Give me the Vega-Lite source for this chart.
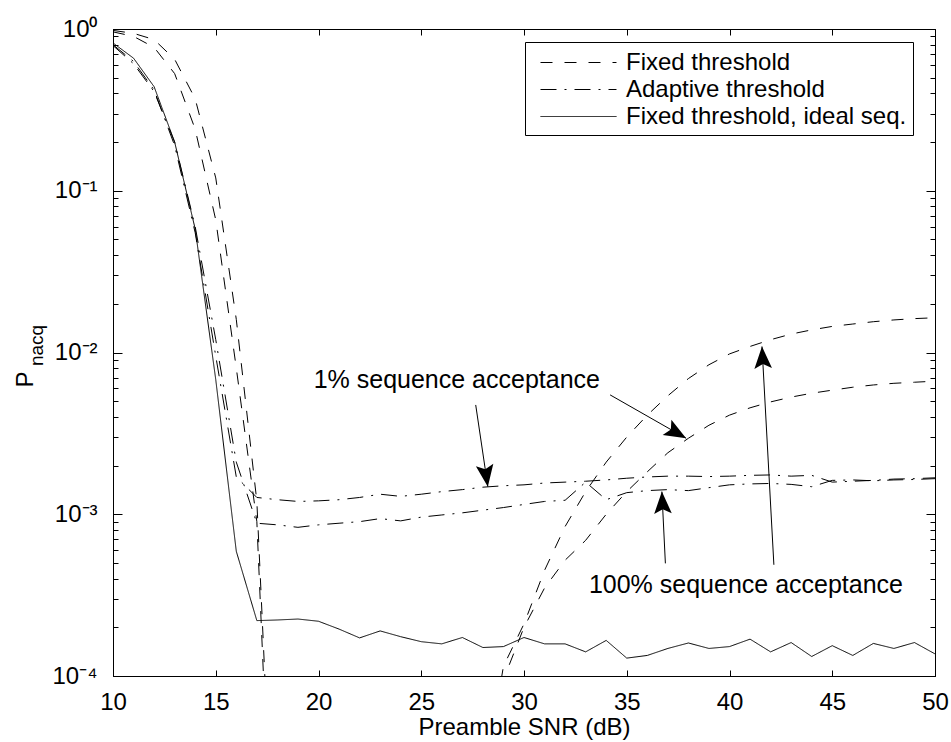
{
  "$schema": "https://vega.github.io/schema/vega-lite/v6.json",
  "width": 822,
  "height": 647,
  "autosize": {"type": "none"},
  "padding": {"left": 113, "top": 29, "right": 16, "bottom": 66},
  "background": "white",
  "datasets": {
    "curves": [
      {"c": "fixR", "t": "Fixed threshold", "x": 10, "y": 0.98},
      {"c": "fixR", "t": "Fixed threshold", "x": 11, "y": 0.94},
      {"c": "fixR", "t": "Fixed threshold", "x": 12, "y": 0.86},
      {"c": "fixR", "t": "Fixed threshold", "x": 13, "y": 0.65},
      {"c": "fixR", "t": "Fixed threshold", "x": 14, "y": 0.37},
      {"c": "fixR", "t": "Fixed threshold", "x": 15, "y": 0.12},
      {"c": "fixR", "t": "Fixed threshold", "x": 16, "y": 0.016},
      {"c": "fixR", "t": "Fixed threshold", "x": 17, "y": 0.0012},
      {"c": "fixR", "t": "Fixed threshold", "x": 18, "y": 0.000002},
      {"c": "fixR", "t": "Fixed threshold", "x": 28, "y": 0.00002},
      {"c": "fixR", "t": "Fixed threshold", "x": 29, "y": 0.000115},
      {"c": "fixR", "t": "Fixed threshold", "x": 30, "y": 0.00021},
      {"c": "fixR", "t": "Fixed threshold", "x": 31, "y": 0.00045},
      {"c": "fixR", "t": "Fixed threshold", "x": 32, "y": 0.00084},
      {"c": "fixR", "t": "Fixed threshold", "x": 33, "y": 0.00138},
      {"c": "fixR", "t": "Fixed threshold", "x": 34, "y": 0.0021},
      {"c": "fixR", "t": "Fixed threshold", "x": 35, "y": 0.003},
      {"c": "fixR", "t": "Fixed threshold", "x": 36, "y": 0.0041},
      {"c": "fixR", "t": "Fixed threshold", "x": 37, "y": 0.0054},
      {"c": "fixR", "t": "Fixed threshold", "x": 38, "y": 0.0069},
      {"c": "fixR", "t": "Fixed threshold", "x": 39, "y": 0.0084},
      {"c": "fixR", "t": "Fixed threshold", "x": 40, "y": 0.0098},
      {"c": "fixR", "t": "Fixed threshold", "x": 41, "y": 0.0109},
      {"c": "fixR", "t": "Fixed threshold", "x": 42, "y": 0.012},
      {"c": "fixR", "t": "Fixed threshold", "x": 43, "y": 0.013},
      {"c": "fixR", "t": "Fixed threshold", "x": 44, "y": 0.0138},
      {"c": "fixR", "t": "Fixed threshold", "x": 45, "y": 0.0145},
      {"c": "fixR", "t": "Fixed threshold", "x": 46, "y": 0.015},
      {"c": "fixR", "t": "Fixed threshold", "x": 47, "y": 0.0155},
      {"c": "fixR", "t": "Fixed threshold", "x": 48, "y": 0.0159},
      {"c": "fixR", "t": "Fixed threshold", "x": 49, "y": 0.0162},
      {"c": "fixR", "t": "Fixed threshold", "x": 50, "y": 0.0164},

      {"c": "fixM", "t": "Fixed threshold", "x": 10, "y": 0.96},
      {"c": "fixM", "t": "Fixed threshold", "x": 11, "y": 0.9},
      {"c": "fixM", "t": "Fixed threshold", "x": 12, "y": 0.77},
      {"c": "fixM", "t": "Fixed threshold", "x": 13, "y": 0.53},
      {"c": "fixM", "t": "Fixed threshold", "x": 14, "y": 0.24},
      {"c": "fixM", "t": "Fixed threshold", "x": 15, "y": 0.066},
      {"c": "fixM", "t": "Fixed threshold", "x": 16, "y": 0.008},
      {"c": "fixM", "t": "Fixed threshold", "x": 17, "y": 0.0009},
      {"c": "fixM", "t": "Fixed threshold", "x": 18, "y": 0.000001},
      {"c": "fixM", "t": "Fixed threshold", "x": 28, "y": 0.000015},
      {"c": "fixM", "t": "Fixed threshold", "x": 29, "y": 0.000095},
      {"c": "fixM", "t": "Fixed threshold", "x": 30, "y": 0.0002},
      {"c": "fixM", "t": "Fixed threshold", "x": 31, "y": 0.00035},
      {"c": "fixM", "t": "Fixed threshold", "x": 32, "y": 0.00052},
      {"c": "fixM", "t": "Fixed threshold", "x": 33, "y": 0.00069},
      {"c": "fixM", "t": "Fixed threshold", "x": 34, "y": 0.001},
      {"c": "fixM", "t": "Fixed threshold", "x": 35, "y": 0.00138},
      {"c": "fixM", "t": "Fixed threshold", "x": 36, "y": 0.00183},
      {"c": "fixM", "t": "Fixed threshold", "x": 37, "y": 0.0024},
      {"c": "fixM", "t": "Fixed threshold", "x": 38, "y": 0.00295},
      {"c": "fixM", "t": "Fixed threshold", "x": 39, "y": 0.00355},
      {"c": "fixM", "t": "Fixed threshold", "x": 40, "y": 0.0041},
      {"c": "fixM", "t": "Fixed threshold", "x": 41, "y": 0.00455},
      {"c": "fixM", "t": "Fixed threshold", "x": 42, "y": 0.00495},
      {"c": "fixM", "t": "Fixed threshold", "x": 43, "y": 0.0053},
      {"c": "fixM", "t": "Fixed threshold", "x": 44, "y": 0.0056},
      {"c": "fixM", "t": "Fixed threshold", "x": 45, "y": 0.00585},
      {"c": "fixM", "t": "Fixed threshold", "x": 46, "y": 0.0061},
      {"c": "fixM", "t": "Fixed threshold", "x": 47, "y": 0.0063},
      {"c": "fixM", "t": "Fixed threshold", "x": 48, "y": 0.00645},
      {"c": "fixM", "t": "Fixed threshold", "x": 49, "y": 0.00655},
      {"c": "fixM", "t": "Fixed threshold", "x": 50, "y": 0.00665},

      {"c": "ad1", "t": "Adaptive threshold", "x": 10, "y": 0.8},
      {"c": "ad1", "t": "Adaptive threshold", "x": 11, "y": 0.63},
      {"c": "ad1", "t": "Adaptive threshold", "x": 12, "y": 0.42},
      {"c": "ad1", "t": "Adaptive threshold", "x": 13, "y": 0.19},
      {"c": "ad1", "t": "Adaptive threshold", "x": 14, "y": 0.055},
      {"c": "ad1", "t": "Adaptive threshold", "x": 15, "y": 0.0095},
      {"c": "ad1", "t": "Adaptive threshold", "x": 16, "y": 0.0017},
      {"c": "ad1", "t": "Adaptive threshold", "x": 17, "y": 0.00127},
      {"c": "ad1", "t": "Adaptive threshold", "x": 18, "y": 0.00123},
      {"c": "ad1", "t": "Adaptive threshold", "x": 19, "y": 0.0012},
      {"c": "ad1", "t": "Adaptive threshold", "x": 20, "y": 0.00121},
      {"c": "ad1", "t": "Adaptive threshold", "x": 21, "y": 0.00123},
      {"c": "ad1", "t": "Adaptive threshold", "x": 22, "y": 0.00127},
      {"c": "ad1", "t": "Adaptive threshold", "x": 23, "y": 0.00133},
      {"c": "ad1", "t": "Adaptive threshold", "x": 24, "y": 0.00129},
      {"c": "ad1", "t": "Adaptive threshold", "x": 25, "y": 0.00133},
      {"c": "ad1", "t": "Adaptive threshold", "x": 26, "y": 0.00138},
      {"c": "ad1", "t": "Adaptive threshold", "x": 27, "y": 0.00142},
      {"c": "ad1", "t": "Adaptive threshold", "x": 28, "y": 0.00147},
      {"c": "ad1", "t": "Adaptive threshold", "x": 29, "y": 0.0015},
      {"c": "ad1", "t": "Adaptive threshold", "x": 30, "y": 0.00152},
      {"c": "ad1", "t": "Adaptive threshold", "x": 31, "y": 0.00156},
      {"c": "ad1", "t": "Adaptive threshold", "x": 32, "y": 0.00158},
      {"c": "ad1", "t": "Adaptive threshold", "x": 33, "y": 0.0016},
      {"c": "ad1", "t": "Adaptive threshold", "x": 34, "y": 0.00163},
      {"c": "ad1", "t": "Adaptive threshold", "x": 35, "y": 0.00167},
      {"c": "ad1", "t": "Adaptive threshold", "x": 36, "y": 0.0017},
      {"c": "ad1", "t": "Adaptive threshold", "x": 37, "y": 0.00172},
      {"c": "ad1", "t": "Adaptive threshold", "x": 38, "y": 0.00172},
      {"c": "ad1", "t": "Adaptive threshold", "x": 39, "y": 0.00171},
      {"c": "ad1", "t": "Adaptive threshold", "x": 40, "y": 0.00172},
      {"c": "ad1", "t": "Adaptive threshold", "x": 41, "y": 0.00174},
      {"c": "ad1", "t": "Adaptive threshold", "x": 42, "y": 0.00175},
      {"c": "ad1", "t": "Adaptive threshold", "x": 43, "y": 0.00172},
      {"c": "ad1", "t": "Adaptive threshold", "x": 44, "y": 0.00174},
      {"c": "ad1", "t": "Adaptive threshold", "x": 45, "y": 0.00158},
      {"c": "ad1", "t": "Adaptive threshold", "x": 46, "y": 0.0016},
      {"c": "ad1", "t": "Adaptive threshold", "x": 47, "y": 0.00162},
      {"c": "ad1", "t": "Adaptive threshold", "x": 48, "y": 0.00165},
      {"c": "ad1", "t": "Adaptive threshold", "x": 49, "y": 0.00166},
      {"c": "ad1", "t": "Adaptive threshold", "x": 50, "y": 0.00168},

      {"c": "ad100", "t": "Adaptive threshold", "x": 10, "y": 0.79},
      {"c": "ad100", "t": "Adaptive threshold", "x": 11, "y": 0.61},
      {"c": "ad100", "t": "Adaptive threshold", "x": 12, "y": 0.41},
      {"c": "ad100", "t": "Adaptive threshold", "x": 13, "y": 0.2},
      {"c": "ad100", "t": "Adaptive threshold", "x": 14, "y": 0.06},
      {"c": "ad100", "t": "Adaptive threshold", "x": 15, "y": 0.012},
      {"c": "ad100", "t": "Adaptive threshold", "x": 16, "y": 0.0021},
      {"c": "ad100", "t": "Adaptive threshold", "x": 17, "y": 0.00088},
      {"c": "ad100", "t": "Adaptive threshold", "x": 18, "y": 0.00086},
      {"c": "ad100", "t": "Adaptive threshold", "x": 19, "y": 0.00083},
      {"c": "ad100", "t": "Adaptive threshold", "x": 20, "y": 0.00086},
      {"c": "ad100", "t": "Adaptive threshold", "x": 21, "y": 0.00088},
      {"c": "ad100", "t": "Adaptive threshold", "x": 22, "y": 0.0009},
      {"c": "ad100", "t": "Adaptive threshold", "x": 23, "y": 0.00094},
      {"c": "ad100", "t": "Adaptive threshold", "x": 24, "y": 0.00091},
      {"c": "ad100", "t": "Adaptive threshold", "x": 25, "y": 0.00096},
      {"c": "ad100", "t": "Adaptive threshold", "x": 26, "y": 0.00099},
      {"c": "ad100", "t": "Adaptive threshold", "x": 27, "y": 0.00102},
      {"c": "ad100", "t": "Adaptive threshold", "x": 28, "y": 0.00106},
      {"c": "ad100", "t": "Adaptive threshold", "x": 29, "y": 0.0011},
      {"c": "ad100", "t": "Adaptive threshold", "x": 30, "y": 0.00115},
      {"c": "ad100", "t": "Adaptive threshold", "x": 31, "y": 0.0012},
      {"c": "ad100", "t": "Adaptive threshold", "x": 32, "y": 0.00122},
      {"c": "ad100", "t": "Adaptive threshold", "x": 33, "y": 0.00158},
      {"c": "ad100", "t": "Adaptive threshold", "x": 34, "y": 0.00123},
      {"c": "ad100", "t": "Adaptive threshold", "x": 35, "y": 0.00136},
      {"c": "ad100", "t": "Adaptive threshold", "x": 36, "y": 0.0014},
      {"c": "ad100", "t": "Adaptive threshold", "x": 37, "y": 0.00142},
      {"c": "ad100", "t": "Adaptive threshold", "x": 38, "y": 0.0014},
      {"c": "ad100", "t": "Adaptive threshold", "x": 39, "y": 0.00146},
      {"c": "ad100", "t": "Adaptive threshold", "x": 40, "y": 0.00152},
      {"c": "ad100", "t": "Adaptive threshold", "x": 41, "y": 0.00154},
      {"c": "ad100", "t": "Adaptive threshold", "x": 42, "y": 0.00155},
      {"c": "ad100", "t": "Adaptive threshold", "x": 43, "y": 0.00153},
      {"c": "ad100", "t": "Adaptive threshold", "x": 44, "y": 0.00148},
      {"c": "ad100", "t": "Adaptive threshold", "x": 45, "y": 0.00162},
      {"c": "ad100", "t": "Adaptive threshold", "x": 46, "y": 0.00163},
      {"c": "ad100", "t": "Adaptive threshold", "x": 47, "y": 0.00161},
      {"c": "ad100", "t": "Adaptive threshold", "x": 48, "y": 0.00163},
      {"c": "ad100", "t": "Adaptive threshold", "x": 49, "y": 0.00164},
      {"c": "ad100", "t": "Adaptive threshold", "x": 50, "y": 0.00166},

      {"c": "ideal", "t": "Fixed threshold, ideal seq.", "x": 10, "y": 0.82},
      {"c": "ideal", "t": "Fixed threshold, ideal seq.", "x": 11, "y": 0.66},
      {"c": "ideal", "t": "Fixed threshold, ideal seq.", "x": 12, "y": 0.44},
      {"c": "ideal", "t": "Fixed threshold, ideal seq.", "x": 13, "y": 0.2},
      {"c": "ideal", "t": "Fixed threshold, ideal seq.", "x": 14, "y": 0.058},
      {"c": "ideal", "t": "Fixed threshold, ideal seq.", "x": 15, "y": 0.0068},
      {"c": "ideal", "t": "Fixed threshold, ideal seq.", "x": 16, "y": 0.00059},
      {"c": "ideal", "t": "Fixed threshold, ideal seq.", "x": 17, "y": 0.00022},
      {"c": "ideal", "t": "Fixed threshold, ideal seq.", "x": 18, "y": 0.000222},
      {"c": "ideal", "t": "Fixed threshold, ideal seq.", "x": 19, "y": 0.000225},
      {"c": "ideal", "t": "Fixed threshold, ideal seq.", "x": 20, "y": 0.000218},
      {"c": "ideal", "t": "Fixed threshold, ideal seq.", "x": 21, "y": 0.000195},
      {"c": "ideal", "t": "Fixed threshold, ideal seq.", "x": 22, "y": 0.000172},
      {"c": "ideal", "t": "Fixed threshold, ideal seq.", "x": 23, "y": 0.00019},
      {"c": "ideal", "t": "Fixed threshold, ideal seq.", "x": 24, "y": 0.000175},
      {"c": "ideal", "t": "Fixed threshold, ideal seq.", "x": 25, "y": 0.000163},
      {"c": "ideal", "t": "Fixed threshold, ideal seq.", "x": 26, "y": 0.000158},
      {"c": "ideal", "t": "Fixed threshold, ideal seq.", "x": 27, "y": 0.000173},
      {"c": "ideal", "t": "Fixed threshold, ideal seq.", "x": 28, "y": 0.00015},
      {"c": "ideal", "t": "Fixed threshold, ideal seq.", "x": 29, "y": 0.000152},
      {"c": "ideal", "t": "Fixed threshold, ideal seq.", "x": 30, "y": 0.000173},
      {"c": "ideal", "t": "Fixed threshold, ideal seq.", "x": 31, "y": 0.000158},
      {"c": "ideal", "t": "Fixed threshold, ideal seq.", "x": 32, "y": 0.000158},
      {"c": "ideal", "t": "Fixed threshold, ideal seq.", "x": 33, "y": 0.000141},
      {"c": "ideal", "t": "Fixed threshold, ideal seq.", "x": 34, "y": 0.000166},
      {"c": "ideal", "t": "Fixed threshold, ideal seq.", "x": 35, "y": 0.000129},
      {"c": "ideal", "t": "Fixed threshold, ideal seq.", "x": 36, "y": 0.000134},
      {"c": "ideal", "t": "Fixed threshold, ideal seq.", "x": 37, "y": 0.000148},
      {"c": "ideal", "t": "Fixed threshold, ideal seq.", "x": 38, "y": 0.00016},
      {"c": "ideal", "t": "Fixed threshold, ideal seq.", "x": 39, "y": 0.000148},
      {"c": "ideal", "t": "Fixed threshold, ideal seq.", "x": 40, "y": 0.000152},
      {"c": "ideal", "t": "Fixed threshold, ideal seq.", "x": 41, "y": 0.000169},
      {"c": "ideal", "t": "Fixed threshold, ideal seq.", "x": 42, "y": 0.000141},
      {"c": "ideal", "t": "Fixed threshold, ideal seq.", "x": 43, "y": 0.000161},
      {"c": "ideal", "t": "Fixed threshold, ideal seq.", "x": 44, "y": 0.000132},
      {"c": "ideal", "t": "Fixed threshold, ideal seq.", "x": 45, "y": 0.000154},
      {"c": "ideal", "t": "Fixed threshold, ideal seq.", "x": 46, "y": 0.000134},
      {"c": "ideal", "t": "Fixed threshold, ideal seq.", "x": 47, "y": 0.000159},
      {"c": "ideal", "t": "Fixed threshold, ideal seq.", "x": 48, "y": 0.000148},
      {"c": "ideal", "t": "Fixed threshold, ideal seq.", "x": 49, "y": 0.000161},
      {"c": "ideal", "t": "Fixed threshold, ideal seq.", "x": 50, "y": 0.000137}
    ],
    "notes": [
      {"label": "1% sequence acceptance", "x": 26.73, "y": 0.0068},
      {"label": "100% sequence acceptance", "x": 40.8, "y": 0.000366}
    ],
    "arrows": [
      {"x": 27.65, "y": 0.00474, "x2": 28.24, "y2": 0.00148},
      {"x": 34.19, "y": 0.00547, "x2": 37.89, "y2": 0.00295},
      {"x": 36.88, "y": 0.000497, "x2": 36.71, "y2": 0.00138},
      {"x": 42.16, "y": 0.000487, "x2": 41.58, "y2": 0.0109}
    ]
  },
  "layer": [
    {
      "data": {"name": "curves"},
      "mark": {"type": "line", "color": "black", "strokeWidth": 1, "clip": true},
      "encoding": {
        "x": {
          "field": "x", "type": "quantitative",
          "scale": {"domain": [10, 50], "nice": false, "zero": false},
          "axis": {
            "values": [10, 15, 20, 25, 30, 35, 40, 45, 50],
            "tickSize": -6, "labelPadding": 20, "labelFlush": false, "labelOverlap": false,
            "format": "d", "title": "Preamble SNR (dB)", "titleY": 58, "titleBaseline": "alphabetic"
          }
        },
        "y": {
          "field": "y", "type": "quantitative",
          "scale": {"type": "log", "domain": [0.0001, 1], "nice": false},
          "axis": {
            "values": [0.0001, 0.0002, 0.0003, 0.0004, 0.0005, 0.0006, 0.0007, 0.0008, 0.0009, 0.001, 0.002, 0.003, 0.004, 0.005, 0.006, 0.007, 0.008, 0.009, 0.01, 0.02, 0.03, 0.04, 0.05, 0.06, 0.07, 0.08, 0.09, 0.1, 0.2, 0.3, 0.4, 0.5, 0.6, 0.7, 0.8, 0.9, 1],
            "labelExpr": "abs(log(datum.value)/LN10 - round(log(datum.value)/LN10)) > 0.001 ? '' : ['10⁻⁴','10⁻³','10⁻²','10⁻¹','10⁰'][round(log(datum.value)/LN10) + 4]",
            "tickSize": {"condition": {"test": "abs(log(datum.value)/LN10 - round(log(datum.value)/LN10)) < 0.001", "value": -9}, "value": -5},
            "labelPadding": 25, "labelOverlap": false, "labelFlush": false,
            "title": "P", "titleX": -81, "titleY": 350, "titleAngle": -90,
            "titleBaseline": "alphabetic", "titleAlign": "center"
          }
        },
        "strokeDash": {
          "field": "t", "type": "nominal",
          "scale": {
            "domain": ["Fixed threshold", "Adaptive threshold", "Fixed threshold, ideal seq."],
            "range": [[12, 12], [16, 8, 2, 8], [1, 0]]
          },
          "legend": {
            "title": null, "orient": "none", "legendX": 412, "legendY": 13,
            "strokeColor": "black", "fillColor": "white", "padding": 6,
            "labelFontSize": 24, "labelFont": "Liberation Sans", "labelColor": "black", "labelLimit": 500,
            "symbolType": "M-2.714,0L2.714,0", "symbolSize": 784, "symbolStrokeWidth": 1,
            "symbolFillColor": "transparent", "symbolStrokeColor": "black",
            "symbolOffset": 33, "rowPadding": 0, "labelOffset": 33
          }
        },
        "detail": {"field": "c", "type": "nominal"}
      }
    },
    {
      "data": {"name": "notes"},
      "mark": {"type": "text", "fontSize": 25, "font": "Liberation Sans", "align": "center", "baseline": "middle", "color": "black"},
      "encoding": {
        "x": {
          "field": "x", "type": "quantitative",
          "scale": {"domain": [10, 50], "nice": false, "zero": false},
          "axis": {"orient": "top", "values": [10, 15, 20, 25, 30, 35, 40, 45, 50], "labels": false, "tickSize": -6, "title": null}
        },
        "y": {
          "field": "y", "type": "quantitative",
          "scale": {"type": "log", "domain": [0.0001, 1], "nice": false},
          "axis": {
            "orient": "right",
            "values": [0.0001, 0.0002, 0.0003, 0.0004, 0.0005, 0.0006, 0.0007, 0.0008, 0.0009, 0.001, 0.002, 0.003, 0.004, 0.005, 0.006, 0.007, 0.008, 0.009, 0.01, 0.02, 0.03, 0.04, 0.05, 0.06, 0.07, 0.08, 0.09, 0.1, 0.2, 0.3, 0.4, 0.5, 0.6, 0.7, 0.8, 0.9, 1],
            "labels": false,
            "tickSize": {"condition": {"test": "abs(log(datum.value)/LN10 - round(log(datum.value)/LN10)) < 0.001", "value": -9}, "value": -5},
            "title": null
          }
        },
        "text": {"field": "label", "type": "nominal"}
      }
    },
    {
      "data": {"name": "arrows"},
      "mark": {"type": "rule", "color": "black", "strokeWidth": 1},
      "encoding": {
        "x": {"field": "x", "type": "quantitative", "scale": {"domain": [10, 50], "nice": false, "zero": false}, "axis": null},
        "y": {
          "field": "y", "type": "quantitative",
          "scale": {"type": "log", "domain": [0.0001, 1], "nice": false},
          "axis": {
            "orient": "left", "labels": false, "ticks": false, "domain": false,
            "title": "nacq", "titleFontSize": 19, "titleX": -71, "titleY": 316, "titleAngle": -90,
            "titleBaseline": "alphabetic", "titleAlign": "center"
          }
        },
        "x2": {"field": "x2"},
        "y2": {"field": "y2"}
      }
    },
    {
      "data": {"name": "arrows"},
      "transform": [
        {"calculate": "(datum.x2 - datum.x) * 822 / 40", "as": "dxp"},
        {"calculate": "-(log(datum.y2 / datum.y) / LN10) * 647 / 4", "as": "dyp"},
        {"calculate": "atan2(datum.dxp, -datum.dyp) * 180 / PI", "as": "ang"}
      ],
      "mark": {"type": "point", "shape": "M0,0L0.8,2L0,1.6L-0.8,2Z", "size": 484, "filled": true, "color": "black", "opacity": 1, "strokeWidth": 0},
      "encoding": {
        "x": {"field": "x2", "type": "quantitative", "scale": {"domain": [10, 50], "nice": false, "zero": false}, "axis": null},
        "y": {"field": "y2", "type": "quantitative", "scale": {"type": "log", "domain": [0.0001, 1], "nice": false}, "axis": null},
        "angle": {"field": "ang", "type": "quantitative", "scale": null}
      }
    }
  ],
  "resolve": {"axis": {"x": "independent", "y": "independent"}},
  "config": {
    "font": "Liberation Sans",
    "view": {"stroke": "black", "strokeWidth": 1},
    "axis": {
      "labelFont": "Liberation Sans", "labelFontSize": 24, "labelColor": "black",
      "titleFont": "Liberation Sans", "titleFontSize": 24, "titleFontWeight": "normal", "titleColor": "black",
      "domainColor": "black", "domainWidth": 1, "tickColor": "black", "tickWidth": 1, "grid": false
    }
  }
}
